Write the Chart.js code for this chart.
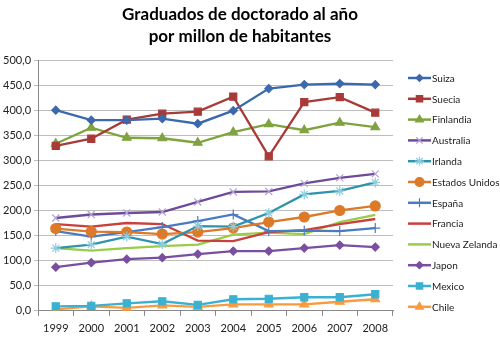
<!DOCTYPE html>
<html>
<head>
<meta charset="utf-8">
<script src="https://cdn.jsdelivr.net/npm/chart.js@4"></script>
<style>
  html, body { margin: 0; padding: 0; background: #fff; }
  #wrap { width: 500px; height: 344px; position: relative; }
</style>
</head>
<body>
<div id="wrap"><canvas id="chart" width="500" height="344"></canvas></div>
<script>
const years = ['1999', '2000', '2001', '2002', '2003', '2004', '2005', '2006', '2007', '2008'];

const suiza = [400, 380, 380, 383, 373, 399, 443, 451, 453, 451];
const suecia = [329, 343, 381, 393, 397, 427, 308, 416, 426, 395];
const finlandia = [333, 365, 345, 344, 335, 356, 372, 360, 375, 366];
const australia = [185, 192, 195, 197, 217, 237, 238, 254, 265, 273];
const irlanda = [125, 132, 148, 133, 169, 168, 195, 232, 239, 256];
const estadosUnidos = [164, 158, 157, 153, 157, 165, 177, 187, 200, 209];
const espana = [159, 148, 157, 167, 179, 192, 159, 160, 159, 165];
const francia = [173, 168, 175, 173, 140, 139, 157, 161, 173, 183];
const nuevaZelanda = [125, 120, 125, 129, 132, 152, 156, 153, 177, 191];
const japon = [87, 96, 103, 106, 113, 119, 119, 125, 131, 127];
const mexico = [9, 10, 15, 19, 12, 23, 24, 27, 27, 33];
const chile = [3, 9, 6, 11, 8, 13, 13, 13, 18, 23];

const titleLines = ['Graduados de doctorado al año', 'por millon de habitantes'];

const series = [
  { label: 'Suiza', data: suiza, color: '#3C69AC', marker: 'rectRot', size: 4, mColor: '#3C69AC' },
  { label: 'Suecia', data: suecia, color: '#A83A38', marker: 'rect', size: 5, mColor: '#A83A38' },
  { label: 'Finlandia', data: finlandia, color: '#7FA33F', marker: 'triangle', size: 5, mColor: '#7FA33F' },
  { label: 'Australia', data: australia, color: '#6E4B9A', marker: 'crossRot', size: 5, mColor: '#B3A2D0' },
  { label: 'Irlanda', data: irlanda, color: '#2E93AD', marker: 'star', size: 5, mColor: '#8CCDE0' },
  { label: 'Estados Unidos', data: estadosUnidos, color: '#DD7A2A', marker: 'circle', size: 5, mColor: '#DD7A2A' },
  { label: 'España', data: espana, color: '#4A7BC0', marker: 'cross', size: 5, mColor: '#4A7BC0' },
  { label: 'Francia', data: francia, color: '#C9403C', marker: false, size: 0, mColor: '#C9403C' },
  { label: 'Nueva Zelanda', data: nuevaZelanda, color: '#9ACB4A', marker: false, size: 0, mColor: '#9ACB4A' },
  { label: 'Japon', data: japon, color: '#7A4EA0', marker: 'rectRot', size: 4, mColor: '#7A4EA0' },
  { label: 'Mexico', data: mexico, color: '#3BB1D2', marker: 'rect', size: 5, mColor: '#3BB1D2' },
  { label: 'Chile', data: chile, color: '#F89A3E', marker: 'triangle', size: 5, mColor: '#F89A3E' }
];

// title and legend drawn by hand, Excel style
const excelDecor = {
  id: 'excelDecor',
  afterDraw(chart) {
    const ctx = chart.ctx;
    ctx.save();
    ctx.fillStyle = '#000';
    ctx.font = 'bold 17px Lato, "Open Sans", sans-serif';
    ctx.textAlign = 'center';
    ctx.textBaseline = 'middle';
    ctx.fillText(titleLines[0], 240, 15);
    ctx.fillText(titleLines[1], 240, 37);

    const x0 = 408;
    let y = 78;
    const step = 20.8;
    ctx.font = '10px Lato, "Open Sans", sans-serif';
    ctx.textAlign = 'left';
    series.forEach((s) => {
      ctx.strokeStyle = s.color;
      ctx.lineWidth = 2.5;
      ctx.beginPath();
      ctx.moveTo(x0, y);
      ctx.lineTo(x0 + 23, y);
      ctx.stroke();
      if (s.marker) {
        ctx.fillStyle = s.mColor;
        ctx.strokeStyle = s.mColor;
        ctx.lineWidth = 1.2;
        Chart.helpers.drawPoint(ctx, { pointStyle: s.marker, radius: s.size - 0.5, borderWidth: 1.2 }, x0 + 11.5, y);
      }
      ctx.fillStyle = '#222';
      const w = ctx.measureText(s.label).width;
      const maxW = 68;
      if (w > maxW) {
        ctx.save();
        ctx.translate(x0 + 24, y + 0.5);
        ctx.scale(maxW / w, 1);
        ctx.fillText(s.label, 0, 0);
        ctx.restore();
      } else {
        ctx.fillText(s.label, x0 + 24, y + 0.5);
      }
      y += step;
    });
    ctx.restore();
  }
};

new Chart(document.getElementById('chart'), {
  type: 'line',
  data: {
    labels: years,
    datasets: series.map((s) => ({
      label: s.label,
      data: s.data,
      borderColor: s.color,
      backgroundColor: s.mColor,
      pointBorderColor: s.mColor,
      pointBackgroundColor: s.mColor,
      borderWidth: 2.3,
      pointStyle: s.marker,
      pointRadius: s.size,
      pointBorderWidth: 1.2,
      tension: 0
    }))
  },
  options: {
    responsive: false,
    animation: false,
    layout: { padding: { top: 60, right: 107, left: 0, bottom: 3 } },
    plugins: {
      legend: { display: false },
      title: { display: false },
      tooltip: { enabled: false }
    },
    scales: {
      x: {
        offset: true,
        grid: {
          offset: true,
          drawOnChartArea: false,
          drawTicks: true,
          tickLength: 5,
          color: '#888'
        },
        border: { color: '#888' },
        ticks: {
          color: '#222',
          font: { family: 'Lato, "Open Sans", sans-serif', size: 11 },
          padding: 6,
          maxRotation: 0
        }
      },
      y: {
        min: 0,
        max: 500,
        grid: { color: '#BDBDBD', tickLength: 4, lineWidth: 1 },
        border: { color: '#888' },
        ticks: {
          stepSize: 50,
          color: '#222',
          font: { family: 'Lato, "Open Sans", sans-serif', size: 11 },
          padding: 3,
          callback: (v) => v.toFixed(1).replace('.', ',')
        }
      }
    }
  },
  plugins: [excelDecor]
});
</script>
</body>
</html>
